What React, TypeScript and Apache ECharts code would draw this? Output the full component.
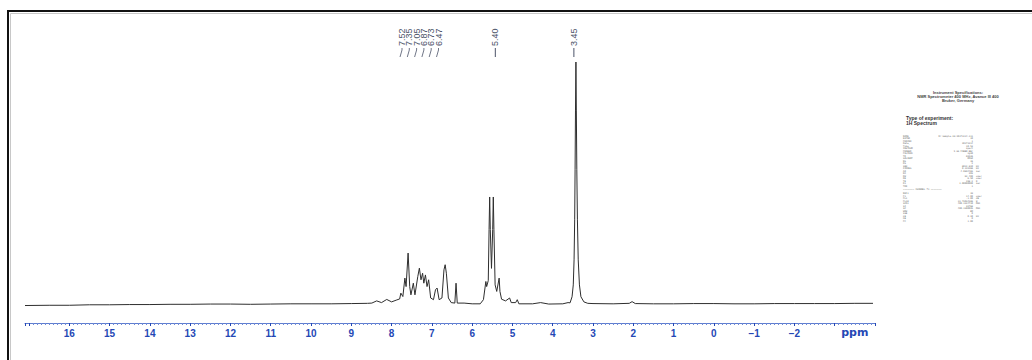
import React, { useEffect, useRef } from "react";
import * as echarts from "echarts";

// [ppm, relative intensity] (3.45 ppm singlet = 100)
const baselineLeft: [number, number][] = [
  [17.1, -0.3], [16.5, -0.2], [16.0, -0.2], [15.5, 0.0], [15.0, 0.0], [14.5, 0.1],
  [14.0, 0.1], [13.5, 0.2], [13.0, 0.2], [12.5, 0.3], [12.0, 0.3], [11.5, 0.2],
  [11.0, 0.3], [10.5, 0.4], [10.0, 0.4], [9.5, 0.4], [9.0, 0.5], [8.6, 0.6],
  [8.49, 0.7], [8.37, 1.6], [8.25, 0.9], [8.12, 2.2], [8.0, 1.2], [7.87, 2.0],
  [7.8, 2.4],
];
const aromatic: [number, number][] = [
  [7.77, 4.8], [7.72, 3.4], [7.67, 11.0], [7.64, 7.5], [7.59, 21.3], [7.55, 7.5],
  [7.52, 4.1], [7.46, 8.9], [7.42, 4.1], [7.35, 11.6], [7.31, 15.1], [7.27, 10.3],
  [7.23, 13.0], [7.2, 8.9], [7.16, 12.3], [7.12, 7.5], [7.08, 10.3], [7.03, 2.8],
  [6.96, 2.1], [6.91, 6.2], [6.87, 6.9], [6.82, 2.1], [6.75, 2.8], [6.7, 14.4],
  [6.67, 16.5], [6.64, 13.0], [6.59, 2.8], [6.52, 0.9], [6.43, 0.7], [6.4, 8.9],
  [6.37, 0.7], [6.2, 0.7], [6.0, 0.4], [5.8, 0.4],
];
const olefinic: [number, number][] = [
  [5.72, 2.1], [5.66, 9.6], [5.64, 7.5], [5.6, 10.0], [5.58, 31.0], [5.565, 44.4],
  [5.55, 31.0], [5.52, 15.0], [5.49, 31.0], [5.475, 44.4], [5.46, 31.0], [5.43, 8.2],
  [5.39, 5.5], [5.33, 11.0], [5.31, 5.5], [5.27, 2.3], [5.17, 1.6], [5.07, 2.8],
  [5.03, 0.9], [4.92, 0.9], [4.88, 2.1], [4.84, 0.4], [4.5, 0.4], [4.3, 0.9],
  [4.1, 0.3], [3.75, 0.4], [3.62, 0.9],
];
const methoxy: [number, number][] = [
  [3.57, 0.8], [3.52, 3.3], [3.49, 8.2], [3.47, 18.5], [3.455, 35.0], [3.445, 55.6],
  [3.435, 80.2], [3.424, 100], [3.414, 80.2], [3.402, 55.6], [3.387, 35.0],
  [3.367, 18.5], [3.337, 8.2], [3.3, 3.3], [3.226, 1.2], [3.13, 0.6],
];
const baselineRight: [number, number][] = [
  [3.0, 0.5], [2.5, 0.4], [2.1, 0.6], [2.03, 1.3], [1.95, 0.5], [1.5, 0.4],
  [1.0, 0.4], [0.5, 0.5], [0.0, 0.5], [-0.5, 0.4], [-1.0, 0.4], [-1.5, 0.5],
  [-2.0, 0.5], [-2.5, 0.5], [-3.0, 0.5], [-3.5, 0.6], [-3.95, 0.6],
];

const groupLabels = [7.52, 7.35, 7.05, 6.87, 6.73, 6.47];
const singleLabels = [5.4, 3.45];

const specTitle = ["Instrument Specifications:", "NMR Spectrometer 400 MHz, Avance III 400", "Bruker, Germany"];
const expTitle = ["Type of experiment:", "1H Spectrum"];
const paramNames = ["NAME", "EXPNO", "PROCNO", "Date_", "Time", "INSTRUM", "PROBHD", "PULPROG", "TD", "SOLVENT", "NS", "DS", "SWH", "FIDRES", "AQ", "RG", "DW", "DE", "TE", "D1", "TD0"];
const paramValues = ["Dr.Sample-1H-20171214-111", "10", "1", "20171214", "10.53", "spect", "5 mm PABBO BB/", "zg30", "65536", "DMSO", "16", "2", "8012.820", "0.122266", "4.0894465", "203", "62.400", "6.50", "298.2", "1.00000000", "1"];
const paramUnits = ["", "", "", "", "", "", "", "", "", "", "", "", "Hz", "Hz", "sec", "", "usec", "usec", "K", "sec", ""];
const chanNames = ["NUC1", "P1", "PL1", "PL1W", "SFO1", "SI", "SF", "WDW", "SSB", "LB", "GB", "PC"];
const chanValues = ["1H", "14.00", "-1.00", "13.73034286", "400.1324710", "32768", "400.1300095", "EM", "0", "0.30", "0", "1.00"];
const chanUnits = ["", "usec", "dB", "W", "MHz", "", "MHz", "", "", "Hz", "", ""];

const BLUE = "#2447b5";
const LABEL = "#4b5368";

export default function App() {
  const ref = useRef<HTMLDivElement>(null);
  useEffect(() => {
    if (!ref.current) return;
    const chart = echarts.init(ref.current, null, { renderer: "svg" });
    const data = [...baselineLeft, ...aromatic, ...olefinic, ...methoxy, ...baselineRight];
    chart.setOption({
      animation: false,
      backgroundColor: "#ffffff",
      grid: { left: 25, right: 157, top: 62, bottom: 37 },
      xAxis: {
        type: "value",
        inverse: true,
        min: -4,
        max: 17.1,
        interval: 1,
        axisLine: { onZero: false, lineStyle: { color: "#5d7ccf", width: 1 } },
        axisTick: { show: true, length: 3, lineStyle: { color: BLUE } },
        minorTick: { show: true, splitNumber: 10, length: 2, lineStyle: { color: "#6f8ad6" } },
        splitLine: { show: false },
        axisLabel: {
          margin: 5,
          color: BLUE,
          fontSize: 10,
          fontWeight: "bold",
          fontFamily: "Liberation Sans, Arial, sans-serif",
          showMaxLabel: false,
          formatter: (v: number) => (v > 16.5 || v < -2.5 ? "" : String(v).replace("-", "\u2212")),
        },
      },
      yAxis: { type: "value", min: -7.5, max: 100, show: false },
      series: [
        {
          type: "line",
          data,
          showSymbol: false,
          lineStyle: { color: "#2e2e2e", width: 1 },
          clip: true,
        },
      ],
    });

    const px = (v: number) => chart.convertToPixel({ xAxisIndex: 0 }, v) as number;
    const g: any[] = [];
    // frame
    g.push({ type: "polyline", shape: { points: [[8, 360], [8, 11], [1032, 11]] }, style: { stroke: "#111", lineWidth: 2, fill: null }, silent: true });
    g.push({ type: "polyline", shape: { points: [[10.5, 360], [10.5, 13.5], [1032, 13.5]] }, style: { stroke: "#c8c8c8", lineWidth: 1, fill: null }, silent: true });
    // ppm unit
    g.push({ type: "text", x: px(-3.5), y: 332, style: { text: "ppm", fill: BLUE, font: "bold 11px 'DejaVu Sans', sans-serif", align: "center", verticalAlign: "middle" } });
    // single peak labels
    singleLabels.forEach((v) => {
      const x = px(v) - 1;
      g.push({ type: "text", x, y: 46, rotation: Math.PI / 2, style: { text: v.toFixed(2), fill: LABEL, font: "9px 'Liberation Sans', sans-serif", align: "left", verticalAlign: "middle" } });
      g.push({ type: "line", shape: { x1: x, y1: 48, x2: x, y2: 57 }, style: { stroke: LABEL, lineWidth: 1 } });
    });
    // multiplet labels
    groupLabels.forEach((v, i) => {
      const lx = 402 + i * 7.3;
      const tx = px(v);
      g.push({ type: "text", x: lx, y: 46, rotation: Math.PI / 2, style: { text: v.toFixed(2), fill: LABEL, font: "9px 'Liberation Sans', sans-serif", align: "left", verticalAlign: "middle" } });
      g.push({ type: "polyline", shape: { points: [[lx, 48], [lx, 50], [Math.min(tx, lx) - 2, 57]] }, style: { stroke: LABEL, lineWidth: 0.8, fill: null } });
    });
    // spec block
    specTitle.forEach((t, i) => {
      g.push({ type: "text", x: 958, y: 92 + i * 4.4, style: { text: t, fill: "#444", font: "bold 4px 'Liberation Sans', sans-serif", align: "center", verticalAlign: "middle" } });
    });
    expTitle.forEach((t, i) => {
      g.push({ type: "text", x: 906, y: 118 + i * 4.8, style: { text: t, fill: "#333", font: "bold 5px 'Liberation Sans', sans-serif", align: "left", verticalAlign: "middle" } });
    });
    const lh = 2.5;
    const small = "2.3px 'DejaVu Sans Mono', monospace";
    g.push({ type: "text", x: 903, y: 135, style: { text: paramNames.join("\n"), fill: "#666", font: small, lineHeight: lh, align: "left", verticalAlign: "top" } });
    g.push({ type: "text", x: 973, y: 135, style: { text: paramValues.join("\n"), fill: "#666", font: small, lineHeight: lh, align: "right", verticalAlign: "top" } });
    g.push({ type: "text", x: 976, y: 135, style: { text: paramUnits.join("\n"), fill: "#666", font: small, lineHeight: lh, align: "left", verticalAlign: "top" } });
    g.push({ type: "text", x: 903, y: 188.5, style: { text: "======== CHANNEL f1 ========", fill: "#666", font: small, align: "left", verticalAlign: "top" } });
    g.push({ type: "text", x: 903, y: 192.5, style: { text: chanNames.join("\n"), fill: "#666", font: small, lineHeight: lh, align: "left", verticalAlign: "top" } });
    g.push({ type: "text", x: 973, y: 192.5, style: { text: chanValues.join("\n"), fill: "#666", font: small, lineHeight: lh, align: "right", verticalAlign: "top" } });
    g.push({ type: "text", x: 976, y: 192.5, style: { text: chanUnits.join("\n"), fill: "#666", font: small, lineHeight: lh, align: "left", verticalAlign: "top" } });
    chart.setOption({ graphic: g });
    return () => chart.dispose();
  }, []);
  return (
    <div
      ref={ref}
      style={{ position: "fixed", left: 0, top: 0, width: 1032, height: 360, background: "#fff" }}
    />
  );
}
